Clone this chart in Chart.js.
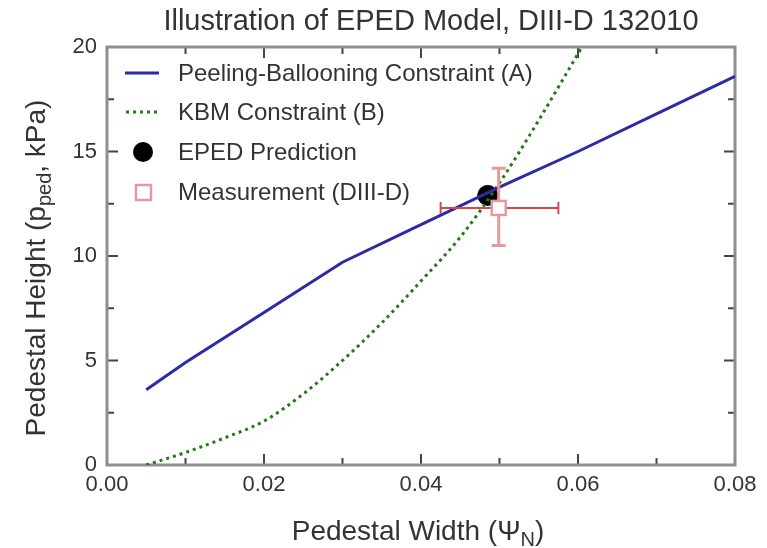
<!DOCTYPE html>
<html>
<head>
<meta charset="utf-8">
<script src="https://cdn.jsdelivr.net/npm/chart.js@4.4.0/dist/chart.umd.min.js"></script>
<style>
html, body { margin: 0; padding: 0; background: #fff; }
#wrap { width: 767px; height: 548px; }
</style>
</head>
<body>
<div id="wrap"><canvas id="myChart" width="767" height="548"></canvas></div>
<script>
// ---- data ----
const pbX = [0.005, 0.01, 0.02, 0.03, 0.04, 0.05, 0.06, 0.07, 0.08];
const pbY = [3.6, 4.9, 7.3, 9.7, 11.5, 13.3, 15.0, 16.8, 18.6];

const kbmX = [0.005, 0.01, 0.015, 0.02, 0.025, 0.03, 0.035, 0.04, 0.045, 0.05, 0.055, 0.0605];
const kbmY = [0.0, 0.6, 1.3, 2.1, 3.4, 5.0, 6.8, 8.8, 10.9, 13.5, 16.5, 20.0];

const epedX = [0.0485];
const epedY = [12.9];

const measX = [0.0499];
const measY = [12.3];
const measXErr = [0.0425, 0.0575];
const measYErr = [10.5, 14.2];

const xTicks = [0.00, 0.02, 0.04, 0.06, 0.08];
const yTicks = [0, 5, 10, 15, 20];

const legendLabels = [
  "Peeling-Ballooning Constraint (A)",
  "KBM Constraint (B)",
  "EPED Prediction",
  "Measurement (DIII-D)"
];

const FONT = "'Liberation Sans', Arial, sans-serif";
const TXT = "#333";
const BLUE = "#2b2ba6";
const GREEN = "#237a14";
const PINK = "#e49a9a";

const zip = (xs, ys) => xs.map((x, i) => ({ x: x, y: ys[i] }));

/* ---------- frame, inward ticks, error bars, legend, titles ---------- */
const decor = {
  id: "decor",
  beforeDatasetsDraw(chart) {
    const { ctx, chartArea: a, scales: { x, y } } = chart;
    ctx.save();
    ctx.strokeStyle = "#444";
    ctx.lineWidth = 2;
    for (let i = 0; i <= 8; i++) {
      const px = x.getPixelForValue(i * 0.01);
      const len = i % 2 === 0 ? 11 : 7;
      ctx.beginPath();
      ctx.moveTo(px, a.bottom); ctx.lineTo(px, a.bottom - len);
      ctx.moveTo(px, a.top); ctx.lineTo(px, a.top + len);
      ctx.stroke();
    }
    for (let i = 0; i <= 8; i++) {
      const py = y.getPixelForValue(i * 2.5);
      const len = i % 2 === 0 ? 11 : 7;
      ctx.beginPath();
      ctx.moveTo(a.left, py); ctx.lineTo(a.left + len, py);
      ctx.moveTo(a.right, py); ctx.lineTo(a.right - len, py);
      ctx.stroke();
    }
    // frame
    ctx.strokeStyle = "#8f8f8f";
    ctx.lineWidth = 3;
    ctx.strokeRect(a.left, a.top, a.right - a.left, a.bottom - a.top);
    ctx.restore();
  },
  afterDatasetsDraw(chart) {
    const { ctx, scales: { x, y } } = chart;
    ctx.save();
    const cx = x.getPixelForValue(measX[0]);
    const cy = y.getPixelForValue(measY[0]);
    // horizontal error bar
    const xl = x.getPixelForValue(measXErr[0]);
    const xr = x.getPixelForValue(measXErr[1]);
    ctx.strokeStyle = "#d44848";
    ctx.lineWidth = 2;
    ctx.beginPath();
    ctx.moveTo(xl, cy); ctx.lineTo(cx - 7, cy);
    ctx.moveTo(cx + 7, cy); ctx.lineTo(xr, cy);
    ctx.moveTo(xl, cy - 6); ctx.lineTo(xl, cy + 6);
    ctx.moveTo(xr, cy - 6); ctx.lineTo(xr, cy + 6);
    ctx.stroke();
    // vertical error bar
    const yt = y.getPixelForValue(measYErr[1]);
    const yb = y.getPixelForValue(measYErr[0]);
    ctx.strokeStyle = PINK;
    ctx.lineWidth = 3;
    ctx.beginPath();
    ctx.moveTo(cx, yt); ctx.lineTo(cx, cy - 7);
    ctx.moveTo(cx, cy + 7); ctx.lineTo(cx, yb);
    ctx.moveTo(cx - 7, yt); ctx.lineTo(cx + 7, yt);
    ctx.moveTo(cx - 7, yb); ctx.lineTo(cx + 7, yb);
    ctx.stroke();
    // square marker
    ctx.strokeStyle = PINK;
    ctx.lineWidth = 2.5;
    ctx.fillStyle = "#fff";
    ctx.fillRect(cx - 7, cy - 7, 14, 14);
    ctx.strokeRect(cx - 7, cy - 7, 14, 14);

    // legend
    const rows = [73, 112, 152, 192];
    ctx.font = "24px " + FONT;
    ctx.fillStyle = TXT;
    ctx.textBaseline = "middle";
    ctx.textAlign = "left";
    legendLabels.forEach((t, i) => ctx.fillText(t, 178, rows[i] + 1));
    ctx.lineWidth = 3;
    ctx.strokeStyle = BLUE;
    ctx.beginPath(); ctx.moveTo(125, rows[0]); ctx.lineTo(159, rows[0]); ctx.stroke();
    ctx.strokeStyle = GREEN;
    ctx.setLineDash([3, 4]);
    ctx.beginPath(); ctx.moveTo(126, rows[1]); ctx.lineTo(159, rows[1]); ctx.stroke();
    ctx.setLineDash([]);
    ctx.fillStyle = "#000";
    ctx.beginPath(); ctx.arc(143, rows[2], 10, 0, Math.PI * 2); ctx.fill();
    ctx.strokeStyle = PINK;
    ctx.lineWidth = 2.5;
    ctx.strokeRect(136, rows[3] - 7, 15, 15);

    // title
    ctx.fillStyle = TXT;
    ctx.textAlign = "center";
    ctx.font = "29px " + FONT;
    ctx.fillText("Illustration of EPED Model, DIII-D 132010", 431, 22);

    // x axis title with subscript
    ctx.textBaseline = "alphabetic";
    ctx.textAlign = "left";
    const big = "28px " + FONT, small = "20px " + FONT;
    ctx.font = big;
    const xa = "Pedestal Width (\u03A8";
    const wA = ctx.measureText(xa).width;
    const wC = ctx.measureText(")").width;
    ctx.font = small;
    const wS = ctx.measureText("N").width;
    let sx = 418 - (wA + wS + wC) / 2;
    ctx.font = big;
    ctx.fillText(xa, sx, 540);
    ctx.font = small;
    ctx.fillText("N", sx + wA, 546);
    ctx.font = big;
    ctx.fillText(")", sx + wA + wS, 540);

    // y axis title with subscript (rotated)
    ctx.translate(45, 268);
    ctx.rotate(-Math.PI / 2);
    const p1 = "Pedestal Height (p", p2 = "ped", p3 = ", kPa)";
    ctx.font = big;
    const w1 = ctx.measureText(p1).width, w3 = ctx.measureText(p3).width;
    ctx.font = small;
    const w2 = ctx.measureText(p2).width;
    let sy = -(w1 + w2 + w3) / 2;
    ctx.font = big;
    ctx.fillText(p1, sy, 0);
    ctx.font = small;
    ctx.fillText(p2, sy + w1, 6);
    ctx.font = big;
    ctx.fillText(p3, sy + w1 + w2, 0);
    ctx.restore();
  }
};

const ctx = document.getElementById("myChart").getContext("2d");
new Chart(ctx, {
  type: "scatter",
  data: {
    datasets: [
      {
        label: legendLabels[0],
        data: zip(pbX, pbY),
        showLine: true,
        borderColor: BLUE,
        borderWidth: 3,
        pointRadius: 0,
        tension: 0
      },
      {
        label: legendLabels[1],
        data: zip(kbmX, kbmY),
        showLine: true,
        borderColor: GREEN,
        borderWidth: 3,
        borderDash: [3, 4],
        pointRadius: 0,
        cubicInterpolationMode: "monotone"
      },
      {
        label: legendLabels[2],
        data: zip(epedX, epedY),
        pointRadius: 10,
        pointBackgroundColor: "#000",
        pointBorderColor: "#000"
      }
    ]
  },
  options: {
    responsive: false,
    animation: false,
    devicePixelRatio: 1,
    layout: { padding: { left: 0, right: 32, top: 47, bottom: 0 } },
    plugins: {
      legend: { display: false },
      tooltip: { enabled: false },
      title: { display: false }
    },
    scales: {
      x: {
        type: "linear",
        min: 0,
        max: 0.08,
        afterBuildTicks: s => { s.ticks = xTicks.map(v => ({ value: v })); },
        afterFit: s => { s.height = 83; },
        grid: { display: false, drawTicks: false },
        border: { display: false },
        ticks: {
          padding: 7,
          color: TXT,
          font: { family: FONT, size: 22 },
          callback: v => v.toFixed(2)
        }
      },
      y: {
        type: "linear",
        min: 0,
        max: 20,
        afterBuildTicks: s => { s.ticks = yTicks.map(v => ({ value: v })); },
        afterFit: s => { s.width = 107; },
        grid: { display: false, drawTicks: false },
        border: { display: false },
        ticks: {
          padding: 10,
          color: TXT,
          font: { family: FONT, size: 22 },
          callback: v => String(v)
        }
      }
    }
  },
  plugins: [decor]
});
</script>
</body>
</html>
